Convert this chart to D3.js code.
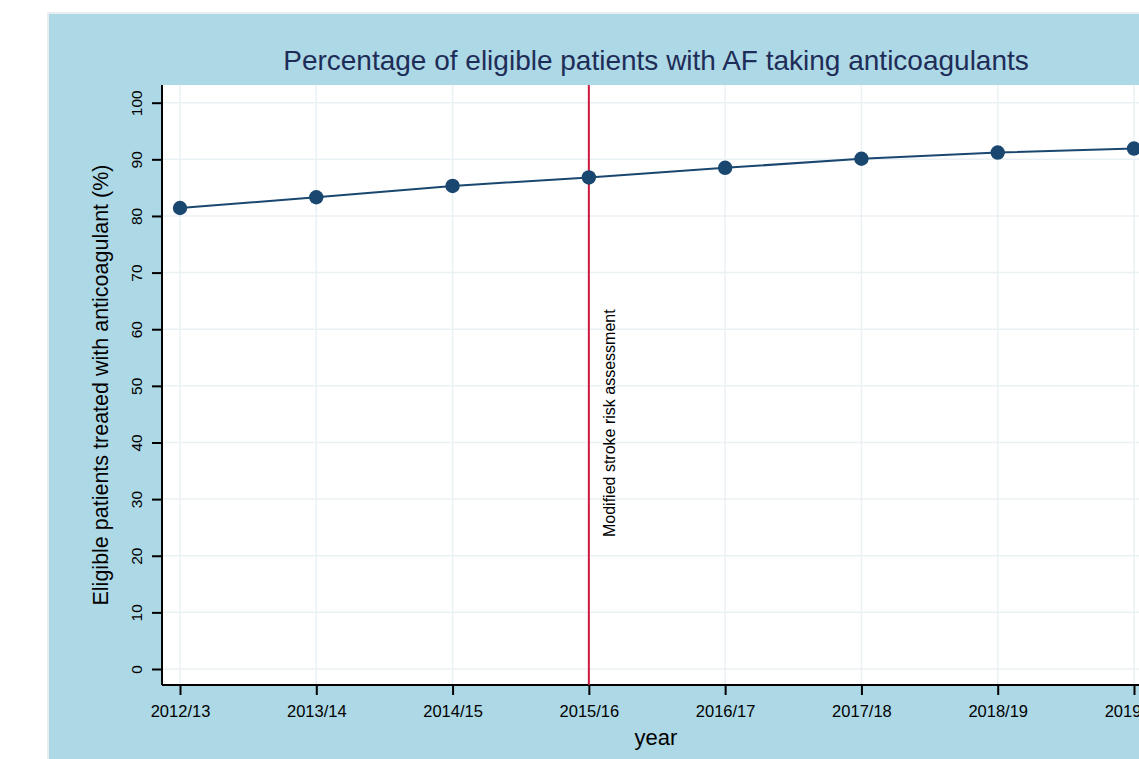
<!DOCTYPE html>
<html>
<head>
<meta charset="utf-8">
<script src="https://cdn.jsdelivr.net/npm/d3@7"></script>
<style>
  body { margin: 0; background: #fff; }
  text { font-family: "Liberation Sans", Arial, sans-serif; }
</style>
</head>
<body>
<div id="chart"></div>
<script>
// data
const years = ['2012/13', '2013/14', '2014/15', '2015/16', '2016/17', '2017/18', '2018/19', '2019/20'];
const pct = [81.4, 83.3, 85.3, 86.8, 88.5, 90.1, 91.2, 91.9];
const yTicks = [0, 10, 20, 30, 40, 50, 60, 70, 80, 90, 100];
const markerYear = '2015/16';
const markerLabel = 'Modified stroke risk assessment';
const titleText = 'Percentage of eligible patients with AF taking anticoagulants';
const yTitle = 'Eligible patients treated with anticoagulant (%)';
const xTitle = 'year';

const [width, height] = [1139, 759];
const plot = { left: 162, right: 1150, top: 85, bottom: 685 };
const navy = '#1a476f';

const svg = d3.select('#chart').append('svg')
  .attr('width', width)
  .attr('height', height);

// graph region (light blue, faint border)
svg.append('rect')
  .attr('x', 48).attr('y', 13)
  .attr('width', width).attr('height', height)
  .attr('fill', '#add8e5')
  .attr('stroke', '#e6eef1')
  .attr('stroke-width', 2);

// plot region
svg.append('rect')
  .attr('x', plot.left).attr('y', plot.top)
  .attr('width', plot.right - plot.left).attr('height', plot.bottom - plot.top)
  .attr('fill', '#fff');

const x = d3.scalePoint().domain(years).range([180, 1134]);
const y = d3.scaleLinear().domain([0, 100]).range([669, 102.7]);

// grid
const grid = svg.append('g').attr('stroke', '#eaf1f4').attr('stroke-width', 1.5);
grid.selectAll('.hg').data(yTicks).enter().append('line')
  .attr('x1', plot.left).attr('x2', plot.right)
  .attr('y1', d => y(d)).attr('y2', d => y(d));
grid.selectAll('.vg').data(years).enter().append('line')
  .attr('x1', d => x(d)).attr('x2', d => x(d))
  .attr('y1', plot.top).attr('y2', plot.bottom);

// axes
const yAxis = svg.append('g')
  .attr('transform', `translate(${plot.left},0)`)
  .call(d3.axisLeft(y).tickValues(yTicks).tickSize(10).tickPadding(6));
yAxis.select('.domain').attr('d', `M0,${plot.top}V${plot.bottom}`);
yAxis.selectAll('.tick text')
  .attr('transform', 'rotate(-90)')
  .attr('x', 0).attr('y', -20)
  .attr('dy', 0)
  .attr('text-anchor', 'middle')
  .style('font-size', '15.5px');

const xAxis = svg.append('g')
  .attr('transform', `translate(0,${plot.bottom})`)
  .call(d3.axisBottom(x).tickSize(10).tickPadding(6));
xAxis.select('.domain').attr('d', `M${plot.left},0H${plot.right}`);
xAxis.selectAll('.tick text')
  .attr('y', 32).attr('dy', 0)
  .style('font-size', '16.5px');

svg.selectAll('.domain, .tick line')
  .attr('stroke', '#000')
  .attr('stroke-width', 2);
svg.selectAll('.tick text').attr('fill', '#000');

// reference line
svg.append('line')
  .attr('x1', x(markerYear)).attr('x2', x(markerYear))
  .attr('y1', plot.top).attr('y2', plot.bottom)
  .attr('stroke', '#cc1a3e')
  .attr('stroke-width', 2);
svg.append('text')
  .attr('transform', `translate(${x(markerYear) + 26},537) rotate(-90)`)
  .style('font-size', '16px')
  .attr('fill', '#000')
  .text(markerLabel);

// series
const line = d3.line()
  .x((d, i) => x(years[i]))
  .y(d => y(d));
svg.append('path')
  .datum(pct)
  .attr('d', line)
  .attr('fill', 'none')
  .attr('stroke', navy)
  .attr('stroke-width', 2);
svg.selectAll('.pt').data(pct).enter().append('circle')
  .attr('cx', (d, i) => x(years[i]))
  .attr('cy', d => y(d))
  .attr('r', 7.2)
  .attr('fill', navy);

// titles
svg.append('text')
  .attr('x', (plot.left + plot.right) / 2).attr('y', 70)
  .attr('text-anchor', 'middle')
  .style('font-size', '28px')
  .attr('fill', '#1e2d58')
  .text(titleText);

svg.append('text')
  .attr('transform', `translate(108,${(plot.top + plot.bottom) / 2}) rotate(-90)`)
  .attr('text-anchor', 'middle')
  .style('font-size', '21.5px')
  .attr('fill', '#000')
  .text(yTitle);

svg.append('text')
  .attr('x', (plot.left + plot.right) / 2).attr('y', 745)
  .attr('text-anchor', 'middle')
  .style('font-size', '22px')
  .attr('fill', '#000')
  .text(xTitle);
</script>
</body>
</html>
